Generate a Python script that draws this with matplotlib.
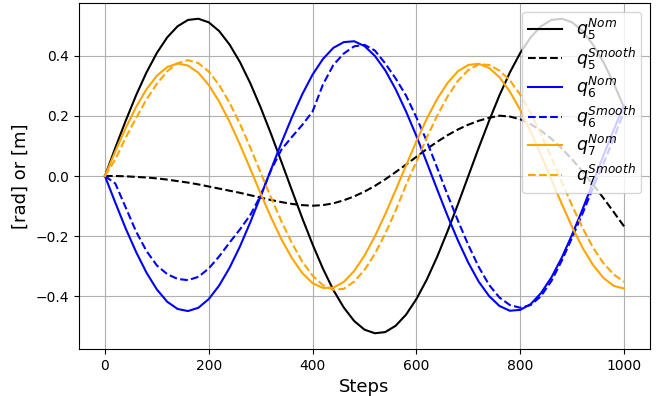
import numpy as np
import matplotlib
matplotlib.use("Agg")
import matplotlib.pyplot as plt

# Joint trajectories sampled every 20 steps
steps = np.arange(0, 1001, 20)

q5_nom = [0.000, 0.094, 0.184, 0.269, 0.345, 0.410, 0.462, 0.499, 0.520, 0.524,
          0.512, 0.483, 0.438, 0.380, 0.309, 0.228, 0.140, 0.047, -0.047, -0.140,
          -0.228, -0.309, -0.380, -0.438, -0.483, -0.512, -0.524, -0.520, -0.499, -0.462,
          -0.410, -0.345, -0.269, -0.184, -0.094, 0.000, 0.094, 0.184, 0.269, 0.345,
          0.410, 0.462, 0.499, 0.520, 0.524, 0.512, 0.483, 0.438, 0.380, 0.309, 0.228]

q5_smooth = [0.000, 0.000, -0.001, -0.003, -0.005, -0.008, -0.012, -0.017, -0.022, -0.028,
             -0.035, -0.042, -0.049, -0.056, -0.064, -0.072, -0.080, -0.087, -0.093, -0.097,
             -0.099, -0.097, -0.091, -0.081, -0.068, -0.052, -0.033, -0.011, 0.013, 0.038,
             0.064, 0.090, 0.114, 0.136, 0.155, 0.171, 0.184, 0.194, 0.201, 0.198,
             0.189, 0.173, 0.151, 0.124, 0.092, 0.055, 0.015, -0.028, -0.073, -0.120, -0.168]

q6_nom = [0.000, -0.089, -0.175, -0.253, -0.322, -0.378, -0.419, -0.443, -0.450, -0.439,
          -0.410, -0.365, -0.306, -0.235, -0.154, -0.067, 0.022, 0.111, 0.195, 0.272,
          0.338, 0.390, 0.427, 0.446, 0.449, 0.433, 0.400, 0.352, 0.289, 0.215,
          0.133, 0.045, -0.045, -0.133, -0.215, -0.289, -0.352, -0.400, -0.433, -0.449,
          -0.446, -0.427, -0.390, -0.338, -0.272, -0.195, -0.111, -0.022, 0.067, 0.154, 0.235]

q6_smooth = [0.000, -0.025, -0.105, -0.185, -0.250, -0.298, -0.327, -0.343, -0.347, -0.336,
             -0.308, -0.268, -0.222, -0.178, -0.130, -0.065, 0.020, 0.088, 0.130, 0.170,
             0.215, 0.305, 0.370, 0.408, 0.432, 0.437, 0.418, 0.375, 0.325, 0.268,
             0.195, 0.116, 0.027, -0.063, -0.149, -0.230, -0.303, -0.363, -0.405, -0.430,
             -0.439, -0.430, -0.400, -0.350, -0.282, -0.205, -0.125, -0.040, 0.040, 0.125, 0.215]

q7_nom = [0.000, 0.082, 0.160, 0.230, 0.289, 0.334, 0.363, 0.375, 0.368, 0.344,
          0.303, 0.248, 0.181, 0.105, 0.024, -0.059, -0.138, -0.211, -0.273, -0.323,
          -0.357, -0.373, -0.372, -0.353, -0.317, -0.265, -0.201, -0.127, -0.047, 0.035,
          0.116, 0.191, 0.257, 0.310, 0.349, 0.370, 0.374, 0.360, 0.329, 0.281,
          0.220, 0.149, 0.070, -0.012, -0.093, -0.170, -0.239, -0.296, -0.339, -0.366, -0.375]

q7_smooth = [0.000, 0.055, 0.128, 0.193, 0.255, 0.307, 0.349, 0.376, 0.386, 0.376,
             0.348, 0.303, 0.244, 0.174, 0.095, 0.011, -0.072, -0.151, -0.223, -0.285,
             -0.332, -0.364, -0.379, -0.376, -0.352, -0.313, -0.259, -0.192, -0.115, -0.030,
             0.048, 0.128, 0.201, 0.265, 0.317, 0.353, 0.372, 0.370, 0.351, 0.319,
             0.271, 0.210, 0.139, 0.062, -0.020, -0.099, -0.173, -0.238, -0.290, -0.328, -0.353]

series = [
    (q5_nom, "k", "-", r"$q_5^{Nom}$"),
    (q5_smooth, "k", "--", r"$q_5^{Smooth}$"),
    (q6_nom, "b", "-", r"$q_6^{Nom}$"),
    (q6_smooth, "b", "--", r"$q_6^{Smooth}$"),
    (q7_nom, "orange", "-", r"$q_7^{Nom}$"),
    (q7_smooth, "orange", "--", r"$q_7^{Smooth}$"),
]

fig = plt.figure(figsize=(6.56, 3.96), dpi=100)
ax = fig.add_axes([0.1204, 0.1187, 0.8705, 0.8737])

for vals, color, ls, label in series:
    ax.plot(steps, vals, color=color, linestyle=ls, linewidth=1.5, label=label)

ax.grid(True)
ax.tick_params(labelsize=10)
ax.set_xlabel("Steps", fontsize=13)
ax.set_ylabel("[rad] or [m]", fontsize=13)
ax.legend(loc="upper right", fontsize=12.5, labelspacing=0.2, borderpad=0.3,
          handlelength=2.0, handletextpad=0.8, borderaxespad=0.5)

fig.savefig("out.png", dpi=100)
